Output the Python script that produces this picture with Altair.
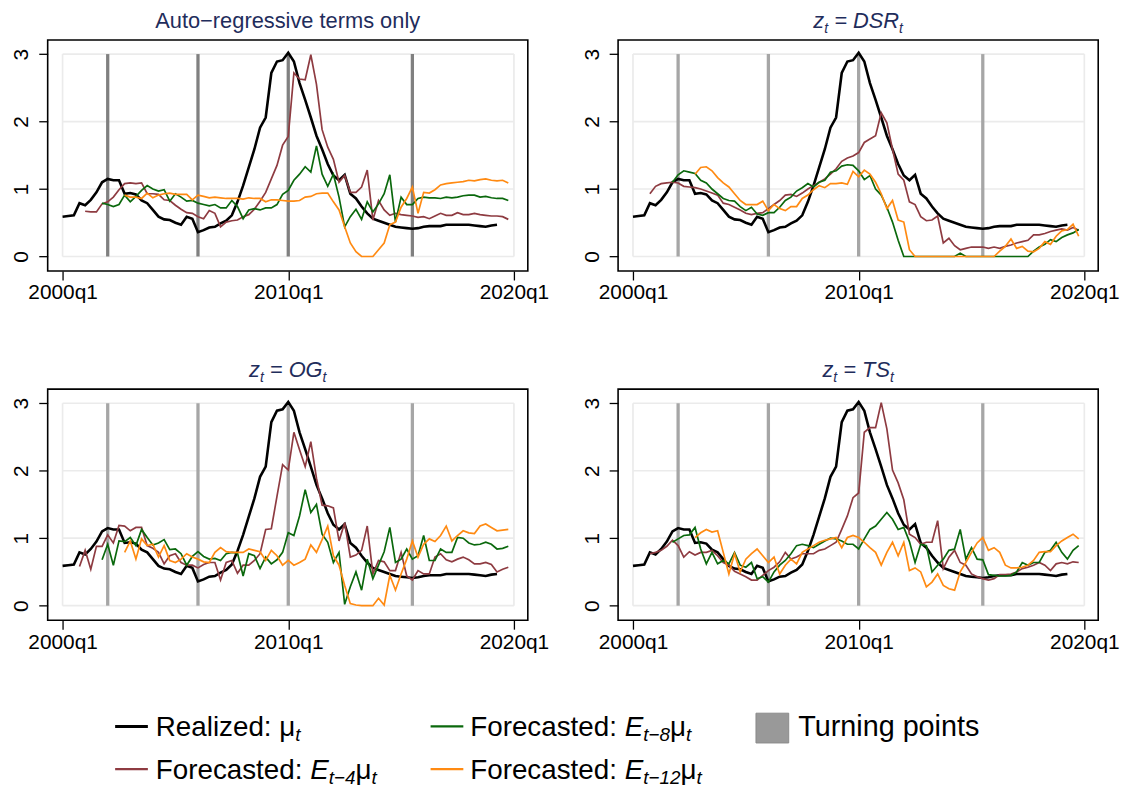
import altair as alt
import pandas as pd

FONT = "Liberation Sans"

# ---------------- data (quarter index 0 = 2000q1) ----------------
TICK_QUARTERS = [0, 40, 80]
Y_TICKS = [0, 1, 2, 3]
TURNING_POINTS = [8, 24, 40, 62]

REALIZED = [0.59, 0.60, 0.61, 0.79, 0.76, 0.84, 0.95, 1.10, 1.15, 1.13,
            1.13, 0.93, 0.94, 0.92, 0.83, 0.79, 0.69, 0.59, 0.55, 0.54,
            0.50, 0.47, 0.59, 0.56, 0.36, 0.39, 0.43, 0.44, 0.49, 0.53,
            0.61, 0.81, 1.05, 1.32, 1.59, 1.91, 2.06, 2.72, 2.89, 2.91,
            3.02, 2.89, 2.57, 2.32, 2.06, 1.79, 1.59, 1.37, 1.20, 1.13,
            1.21, 0.93, 0.86, 0.74, 0.64, 0.56, 0.53, 0.50, 0.47, 0.44,
            0.43, 0.42, 0.41, 0.42, 0.44, 0.45, 0.45, 0.45, 0.47, 0.47,
            0.47, 0.47, 0.47, 0.46, 0.45, 0.44, 0.46, 0.47]

# (first quarter index, values)
AR_E4 = (4, [0.67, 0.66, 0.66, 0.78, 0.81, 0.88,
             0.99, 1.08, 1.09, 1.08, 1.09, 0.93, 0.93, 0.92, 0.84, 0.83,
             0.76, 0.70, 0.65, 0.64, 0.59, 0.56, 0.68, 0.64, 0.44, 0.51,
             0.53, 0.54, 0.59, 0.62, 0.70, 0.82, 0.95, 1.15, 1.35, 1.65,
             1.78, 2.72, 2.63, 2.62, 2.99, 2.55, 1.88, 1.62, 1.44, 1.10,
             1.20, 0.95, 0.95, 1.03, 1.28, 0.54, 0.83, 0.69, 0.61, 0.64,
             0.62, 0.61, 0.60, 0.58, 0.59, 0.56, 0.60, 0.64, 0.61, 0.61,
             0.65, 0.62, 0.62, 0.64, 0.62, 0.61, 0.60, 0.60, 0.59, 0.55])
AR_E8 = (7, [0.79, 0.77, 0.74,
             0.77, 0.91, 0.81, 0.89, 0.98, 1.05, 1.00, 0.97, 0.99, 0.82,
             0.93, 0.88, 0.82, 0.83, 0.79, 0.77, 0.75, 0.77, 0.72, 0.72,
             0.83, 0.74, 0.56, 0.69, 0.71, 0.69, 0.72, 0.72, 0.77, 0.92,
             0.98, 1.13, 1.22, 1.33, 1.25, 1.64, 1.22, 1.04, 1.22, 0.88,
             0.44, 0.59, 0.70, 0.55, 0.81, 0.66, 0.78, 0.93, 1.21, 0.51,
             0.88, 0.77, 0.77, 0.86, 0.88, 0.87, 0.87, 0.86, 0.88, 0.87,
             0.88, 0.90, 0.91, 0.91, 0.88, 0.89, 0.87, 0.86, 0.86, 0.83])
AR_E12 = (11, [0.91, 0.88, 0.88, 0.86, 0.94, 0.87, 0.91, 0.93, 0.94,
               0.92, 0.92, 0.92, 0.84, 0.91, 0.89, 0.87, 0.88, 0.87, 0.86,
               0.86, 0.86, 0.85, 0.87, 0.86, 0.86, 0.81, 0.84, 0.84, 0.83,
               0.82, 0.82, 0.83, 0.88, 0.89, 0.93, 0.94, 0.94, 0.81, 0.69,
               0.44, 0.20, 0.07, 0.00, 0.00, 0.00, 0.10, 0.20, 0.47, 0.51,
               0.73, 0.86, 1.03, 0.64, 0.95, 0.94, 0.99, 1.06, 1.08, 1.09,
               1.10, 1.11, 1.13, 1.12, 1.14, 1.15, 1.13, 1.12, 1.13, 1.09])

DSR_E4 = (3, [0.93, 1.04, 1.08, 1.09, 1.10, 1.09, 1.04,
              1.03, 1.02, 1.00, 0.97, 0.94, 0.91, 0.79, 0.77, 0.73, 0.69,
              0.64, 0.62, 0.64, 0.65, 0.71, 0.77, 0.83, 0.91, 0.92, 0.89,
              0.94, 1.00, 1.05, 1.10, 1.15, 1.22, 1.30, 1.41, 1.46, 1.49,
              1.54, 1.69, 1.74, 1.79, 2.13, 1.98, 1.59, 1.22, 1.13, 0.81,
              0.77, 0.59, 0.53, 0.54, 0.60, 0.20, 0.27, 0.16, 0.10, 0.12,
              0.14, 0.14, 0.14, 0.12, 0.14, 0.12, 0.15, 0.17, 0.20, 0.22,
              0.24, 0.32, 0.32, 0.34, 0.37, 0.39, 0.41, 0.39, 0.43, 0.39])
DSR_E8 = (7, [1.10, 1.21, 1.27,
              1.25, 1.23, 1.13, 1.09, 1.00, 0.93, 0.86, 0.83, 0.82, 0.74,
              0.68, 0.73, 0.63, 0.61, 0.65, 0.65, 0.73, 0.83, 0.88, 0.97,
              1.02, 1.08, 1.03, 1.10, 1.13, 1.25, 1.27, 1.34, 1.36, 1.35,
              1.27, 1.14, 1.20, 1.00, 0.91, 0.73, 0.51, 0.24, 0.00, 0.00,
              0.00, 0.00, 0.00, 0.00, 0.00, 0.00, 0.00, 0.00, 0.05, 0.00,
              0.00, 0.00, 0.00, 0.00, 0.00, 0.00, 0.00, 0.00, 0.00, 0.00,
              0.00, 0.08, 0.14, 0.18, 0.25, 0.22, 0.28, 0.32, 0.35, 0.40])
DSR_E12 = (11, [1.22, 1.32, 1.33, 1.27, 1.17, 1.09, 1.03, 0.93, 0.83,
                0.77, 0.77, 0.77, 0.82, 0.68, 0.77, 0.71, 0.68, 0.74, 0.74,
                0.86, 0.91, 0.99, 1.05, 1.02, 1.08, 1.08, 1.09, 1.07, 1.26,
                1.18, 1.28, 1.22, 1.10, 0.93, 0.71, 0.83, 0.54, 0.51, 0.10,
                0.00, 0.00, 0.00, 0.00, 0.00, 0.00, 0.00, 0.00, 0.00, 0.00,
                0.00, 0.00, 0.00, 0.00, 0.00, 0.08, 0.15, 0.26, 0.12, 0.15,
                0.08, 0.07, 0.12, 0.22, 0.18, 0.30, 0.38, 0.40, 0.48, 0.30])

OG_E4 = (3, [0.58, 0.82, 0.54, 0.88, 0.88, 1.05, 0.93,
             1.19, 1.18, 1.11, 1.16, 1.16, 0.89, 0.85, 0.79, 0.62, 0.74,
             0.77, 0.64, 0.60, 0.60, 0.56, 0.61, 0.64, 0.64, 0.38, 0.64,
             0.67, 0.48, 0.60, 0.60, 0.67, 0.77, 1.13, 1.14, 1.62, 2.09,
             2.01, 2.57, 2.31, 2.06, 2.43, 1.89, 1.49, 1.48, 1.45, 0.96,
             1.23, 0.72, 0.75, 0.82, 1.18, 0.47, 0.67, 0.65, 0.52, 0.52,
             0.79, 0.44, 0.38, 0.52, 0.47, 0.47, 0.72, 0.77, 0.68, 0.65,
             0.69, 0.72, 0.68, 0.62, 0.62, 0.64, 0.61, 0.50, 0.54, 0.57])
OG_E8 = (7, [0.68, 0.91, 0.60,
             0.96, 0.95, 1.01, 0.89, 1.13, 1.01, 0.90, 0.93, 0.98, 0.83,
             0.84, 0.77, 0.60, 0.73, 0.80, 0.73, 0.69, 0.70, 0.67, 0.77,
             0.79, 0.78, 0.44, 0.77, 0.74, 0.55, 0.72, 0.62, 0.68, 0.79,
             1.08, 1.04, 1.33, 1.72, 1.38, 1.50, 1.06, 0.94, 0.64, 0.79,
             0.02, 0.28, 0.50, 0.23, 0.69, 0.40, 0.60, 0.80, 1.16, 0.64,
             0.69, 0.84, 0.69, 0.74, 1.04, 0.67, 0.67, 0.84, 0.79, 0.79,
             1.01, 1.00, 0.93, 0.90, 0.91, 0.94, 0.91, 0.84, 0.85, 0.88])
OG_E12 = (11, [0.79, 0.96, 0.69, 0.99, 0.89, 0.91, 0.72, 0.89, 0.67,
               0.64, 0.69, 0.77, 0.72, 0.69, 0.65, 0.64, 0.79, 0.86, 0.80,
               0.79, 0.79, 0.79, 0.84, 0.82, 0.80, 0.67, 0.82, 0.74, 0.60,
               0.67, 0.60, 0.64, 0.69, 0.90, 0.79, 0.98, 1.18, 0.74, 0.60,
               0.30, 0.03, 0.01, 0.00, 0.00, 0.00, 0.11, 0.01, 0.45, 0.23,
               0.47, 0.69, 0.96, 0.72, 0.91, 0.99, 0.95, 1.04, 1.18, 0.96,
               1.04, 1.11, 1.08, 1.07, 1.18, 1.21, 1.16, 1.11, 1.12, 1.13])

TS_E4 = (3, [0.77, 0.79, 0.82, 0.88, 0.97, 0.89, 0.72,
             0.80, 0.75, 0.79, 0.79, 0.82, 0.74, 0.64, 0.60, 0.51, 0.47,
             0.43, 0.38, 0.38, 0.45, 0.52, 0.57, 0.65, 0.79, 0.69, 0.72,
             0.77, 0.77, 0.77, 0.82, 0.84, 0.89, 0.94, 1.13, 1.33, 1.60,
             1.67, 2.57, 2.64, 2.64, 3.01, 2.62, 2.01, 1.82, 1.57, 1.06,
             1.01, 0.91, 0.94, 0.94, 1.26, 0.55, 0.72, 0.82, 0.64, 0.60,
             0.47, 0.43, 0.40, 0.38, 0.40, 0.46, 0.46, 0.47, 0.50, 0.55,
             0.57, 0.60, 0.64, 0.60, 0.52, 0.62, 0.64, 0.62, 0.65, 0.64])
TS_E8 = (7, [0.94, 0.99, 1.04,
             1.05, 1.16, 0.84, 0.62, 0.79, 0.62, 0.67, 0.62, 0.79, 0.60,
             0.57, 0.64, 0.40, 0.43, 0.35, 0.50, 0.60, 0.67, 0.77, 0.89,
             0.91, 0.89, 0.86, 0.91, 0.96, 1.00, 0.99, 0.96, 0.91, 0.91,
             0.84, 0.99, 1.13, 1.18, 1.28, 1.38, 1.28, 1.13, 1.16, 0.95,
             0.64, 0.91, 0.89, 0.50, 0.60, 0.69, 0.82, 0.84, 1.13, 0.69,
             0.86, 0.69, 0.68, 0.46, 0.45, 0.44, 0.44, 0.45, 0.50, 0.64,
             0.60, 0.64, 0.64, 0.79, 0.82, 0.94, 0.79, 0.69, 0.82, 0.89])
TS_E12 = (11, [1.01, 1.08, 1.13, 1.09, 1.11, 0.79, 0.47, 0.77, 0.50,
               0.69, 0.77, 0.84, 0.74, 0.64, 0.72, 0.47, 0.60, 0.69, 0.62,
               0.79, 0.84, 0.89, 0.94, 0.97, 0.99, 1.01, 0.86, 1.01, 1.04,
               1.01, 0.94, 0.86, 0.79, 0.60, 0.79, 0.94, 0.74, 0.94, 0.52,
               0.56, 0.50, 0.28, 0.35, 0.47, 0.30, 0.25, 0.23, 0.50, 0.64,
               0.79, 0.93, 1.01, 0.82, 0.86, 0.79, 0.60, 0.56, 0.56, 0.57,
               0.60, 0.67, 0.79, 0.80, 0.80, 0.89, 0.96, 1.01, 1.06, 0.99])

PANEL_SERIES = {
    "ar": {"E4": AR_E4, "E8": AR_E8, "E12": AR_E12},
    "dsr": {"E4": DSR_E4, "E8": DSR_E8, "E12": DSR_E12},
    "og": {"E4": OG_E4, "E8": OG_E8, "E12": OG_E12},
    "ts": {"E4": TS_E4, "E8": TS_E8, "E12": TS_E12},
}

SERIES = ["Realized", "E4", "E8", "E12"]
SERIES_COLORS = {"Realized": "#000000", "E4": "#8E3B41", "E8": "#0A680C", "E12": "#FF8A12"}
SERIES_WIDTHS = {"Realized": 2.6, "E4": 1.7, "E8": 1.7, "E12": 1.7}

# ---------------- layout ----------------
PW, PH = 484, 233
HSP, VSP = 91, 119
LEG_DY = 315          # legend origin below the top of the lower-left panel
TITLE_COLOR = "#1f2d5c"
GRID_COLOR = "#EBEBEB"
XS = alt.Scale(domain=[-2.64, 82.46], nice=False, zero=False)
YS = alt.Scale(domain=[-0.216, 3.21], nice=False, zero=False)

XAXIS = alt.Axis(values=TICK_QUARTERS, title=None, grid=False, domain=False,
                 labelExpr="toString(2000 + floor(datum.value / 4)) + 'q' + toString(datum.value % 4 + 1)",
                 tickSize=9, tickColor="black", tickWidth=1.3,
                 labelFont=FONT, labelFontSize=21, labelColor="black",
                 labelPadding=2, labelFlush=False, labelOverlap=False)
YAXIS = alt.Axis(values=Y_TICKS, title=None, grid=False, domain=False, format="d",
                 tickSize=9, tickColor="black", tickWidth=1.3,
                 labelFont=FONT, labelFontSize=21, labelColor="black",
                 labelAngle=270, labelAlign="center", labelBaseline="bottom",
                 labelPadding=7, labelOverlap=False)

# Arial / Liberation Sans advance widths (per 1000 em)
AW = {' ': 278, '=': 584, '\u2212': 584, '-': 333, ':': 278, '\u03bc': 576,
      'A': 667, 'D': 722, 'E': 667, 'F': 611, 'G': 778, 'O': 778, 'R': 722, 'S': 667, 'T': 611,
      'a': 556, 'c': 500, 'd': 556, 'e': 556, 'g': 556, 'i': 222, 'l': 222, 'm': 833,
      'n': 556, 'o': 556, 'p': 556, 'r': 333, 's': 500, 't': 278, 'u': 556, 'v': 500,
      'y': 500, 'z': 500}


def tw(s, size):
    return sum(AW.get(c, 556) for c in s) * size / 1000.0


ONE = alt.Data(values=[{"k": 1}])


def rich(segs, x0, y0, color, anchor="left"):
    total = sum(tw(t, sz) for t, sz, _, _ in segs)
    x = x0 - total / 2 if anchor == "middle" else x0
    out = []
    for t, sz, ital, dy in segs:
        lead = len(t) - len(t.lstrip(" "))
        out.append(
            alt.Chart(ONE).mark_text(text=t.strip(" "), font=FONT, fontSize=sz,
                                     fontStyle="italic" if ital else "normal",
                                     align="left", baseline="alphabetic", color=color)
            .encode(x=alt.value(x + tw(t[:lead], sz)), y=alt.value(y0 + dy))
        )
        x += tw(t, sz)
    return out


def series_frame(key):
    rows = []
    for i, v in enumerate(REALIZED):
        rows.append({"q": i, "v": v, "s": "Realized"})
    for name, (start, vals) in PANEL_SERIES[key].items():
        for k, v in enumerate(vals):
            rows.append({"q": start + k, "v": v, "s": name})
    return pd.DataFrame(rows)


grid_h = pd.DataFrame({"y": Y_TICKS, "x1": TICK_QUARTERS[0], "x2": TICK_QUARTERS[-1]})
grid_v = pd.DataFrame({"x": [TICK_QUARTERS[0], TICK_QUARTERS[-1]], "y1": Y_TICKS[0], "y2": Y_TICKS[-1]})
turn_df = pd.DataFrame({"x": TURNING_POINTS, "y1": Y_TICKS[0], "y2": Y_TICKS[-1]})


def X(f):
    return alt.X(f, type="quantitative", scale=XS, axis=XAXIS)


def Y(f):
    return alt.Y(f, type="quantitative", scale=YS, axis=YAXIS)


# ---------------- legend (drawn under the lower-left panel) ----------------
LFS, LSUB, LDY = 28, 19, 5
ROW_Y = [LEG_DY + 25, LEG_DY + 68]


def leg_line(x1, x2, y, color, w):
    return alt.Chart(ONE).mark_rule(color=color, strokeWidth=w).encode(
        x=alt.value(x1), x2=alt.value(x2), y=alt.value(y))


def fc(lag):
    return [("Forecasted: ", LFS, False, 0), ("E", LFS, True, 0), ("t\u2212" + lag, LSUB, True, LDY),
            ("\u03bc", LFS, False, 0), ("t", LSUB, True, LDY)]


def legend_layers():
    leg = []
    leg.append(leg_line(68, 101, ROW_Y[0], SERIES_COLORS["Realized"], 3))
    leg += rich([("Realized: ", LFS, False, 0), ("\u03bc", LFS, False, 0), ("t", LSUB, True, LDY)],
                109, ROW_Y[0] + 10, "black")
    leg.append(leg_line(68, 101, ROW_Y[1], SERIES_COLORS["E4"], 2.3))
    leg += rich(fc("4"), 109, ROW_Y[1] + 10, "black")
    leg.append(leg_line(386, 419, ROW_Y[0], SERIES_COLORS["E8"], 2.3))
    leg += rich(fc("8"), 426, ROW_Y[0] + 10, "black")
    leg.append(leg_line(386, 419, ROW_Y[1], SERIES_COLORS["E12"], 2.3))
    leg += rich(fc("12"), 426, ROW_Y[1] + 10, "black")
    leg.append(alt.Chart(ONE).mark_rect(color="#999999", stroke="#8A8A8A", strokeWidth=1).encode(
        x=alt.value(714), x2=alt.value(747), y=alt.value(ROW_Y[0] - 13.3), y2=alt.value(ROW_Y[0] + 16.7)))
    leg += rich([("Turning points", 29, False, 0)], 756.6, ROW_Y[0] + 10, "black")
    return leg


def panel(key, title_segs, tp_color, with_legend=False):
    df = series_frame(key)
    layers = [
        alt.Chart(grid_h).mark_rule(color=GRID_COLOR, strokeWidth=1.7)
        .encode(x=X("x1"), x2="x2:Q", y=Y("y")),
        alt.Chart(grid_v).mark_rule(color=GRID_COLOR, strokeWidth=1.7)
        .encode(x=X("x"), y=Y("y1"), y2="y2:Q"),
        alt.Chart(turn_df).mark_rule(color=tp_color, strokeWidth=3.3)
        .encode(x=X("x"), y=Y("y1"), y2="y2:Q"),
    ]
    for s in SERIES:
        layers.append(
            alt.Chart(df[df["s"] == s]).mark_line(color=SERIES_COLORS[s], strokeWidth=SERIES_WIDTHS[s])
            .encode(x=X("q"), y=Y("v"))
        )
    layers += rich(title_segs, PW / 2, -12, TITLE_COLOR, anchor="middle")
    if with_legend:
        layers += legend_layers()
    return alt.layer(*layers).properties(width=PW, height=PH)


def zt_title(name):
    return [("z", 22, True, 0), ("t", 14, True, 5), (" = " + name, 22, True, 0), ("t", 14, True, 5)]


p1 = panel("ar", [("Auto\u2212regressive terms only", 22, False, 0)], "#808080")
p2 = panel("dsr", zt_title("DSR"), "#A6A6A6")
p3 = panel("og", zt_title("OG"), "#A6A6A6", with_legend=True)
p4 = panel("ts", zt_title("TS"), "#A6A6A6")

chart = alt.concat(
    p1, p2, p3, p4, columns=2, bounds="flush",
    spacing={"row": VSP, "column": HSP},
).configure_view(
    stroke="black", strokeWidth=1.6
).properties(padding={"left": 2, "top": -2, "right": 5, "bottom": 5}, background="white")

chart.save("out.html", embed_options={"renderer": "svg", "actions": False})
